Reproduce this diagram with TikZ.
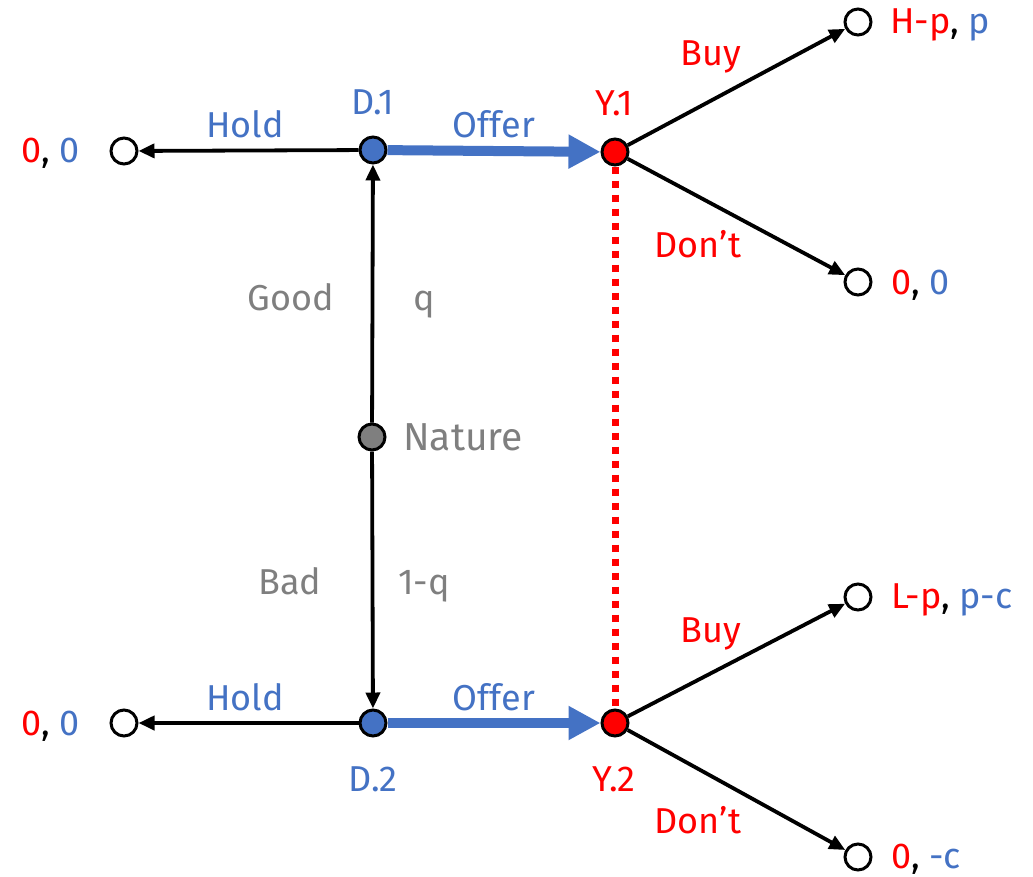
\documentclass[tikz,border=0pt]{standalone}
\usepackage{fontspec}
\setmainfont{Fira Sans}
\usetikzlibrary{arrows.meta}
\definecolor{myblue}{HTML}{4472C4}
\definecolor{myred}{HTML}{FF0000}
\definecolor{mygray}{HTML}{7F7F7F}
\begin{document}
\begin{tikzpicture}[x=1pt,y=-1pt,
  font=\fontsize{36}{42}\selectfont,
  dec/.style={circle,draw=black,line width=3pt,minimum size=26pt,inner sep=0pt},
  term/.style={dec,fill=white},
  lbl/.style={inner sep=0pt,anchor=base},
  lbll/.style={inner sep=0pt,anchor=base west},
  lblr/.style={inner sep=0pt,anchor=base east},
  move/.style={draw=black,line width=3.8pt,-{Triangle[length=16pt,width=14pt]}},
  offer/.style={draw=myblue,line width=10pt,-{Triangle[length=32pt,width=32pt]}},
  info/.style={draw=myred,line width=7pt,dash pattern=on 7pt off 7pt}]
\useasboundingbox (0,0) rectangle (1033,876);
% decision nodes
\node[dec,fill=myblue] (D1) at (373,150) {};
\node[dec,fill=myblue] (D2) at (373,723) {};
\node[dec,fill=myred] (Y1) at (615,152) {};
\node[dec,fill=myred] (Y2) at (615,723) {};
\node[dec,fill=mygray] (N) at (372,437) {};
% terminals
\node[term] (TL1) at (124,151) {};
\node[term] (TL2) at (124,723) {};
\node[term] (T1) at (858,22) {};
\node[term] (T2) at (858,282) {};
\node[term] (T3) at (858,597) {};
\node[term] (T4) at (858,857) {};
% connectors
\draw[info] (Y1) -- (Y2);
\draw[move] (D1) -- (TL1);
\draw[move] (D2) -- (TL2);
\draw[move] (N) -- (D1);
\draw[move] (N) -- (D2);
\draw[offer] (D1) -- (Y1);
\draw[offer] (D2) -- (Y2);
\draw[move] (Y1) -- (T1);
\draw[move] (Y1) -- (T2);
\draw[move] (Y2) -- (T3);
\draw[move] (Y2) -- (T4);
% labels
\node[lbl,text=myblue] (lHold1) at (245,137) {Hold};
\node[lbl,text=myblue] (lHold2) at (245,710) {Hold};
\node[lbl,text=myblue] (lOffer1) at (494,137) {Offer};
\node[lbl,text=myblue] (lOffer2) at (494,710) {Offer};
\node[lbl,text=myblue] (lD1) at (373,114) {D.1};
\node[lbl,text=myblue] (lD2) at (373,791) {D.2};
\node[lbl,text=myred] (lY1) at (614,115) {Y.1};
\node[lbl,text=myred] (lY2) at (614,791) {Y.2};
\node[lbl,text=myred] (lBuy1) at (711,65) {Buy};
\node[lbl,text=myred] (lBuy2) at (711,642) {Buy};
\node[lbl,text=myred] (lDont1) at (698,257) {Don’t};
\node[lbl,text=myred] (lDont2) at (698,833) {Don’t};
\node[lbl,text=mygray] (lGood) at (291,310) {Good};
\node[lbl,text=mygray] (lq) at (424,310) {q};
\node[lbl,text=mygray] (lBad) at (290,594) {Bad};
\node[lbl,text=mygray] (l1q) at (424,594) {1-q};
\node[lbll,text=mygray,font=\fontsize{39}{45}\selectfont] (lNature) at (403,450) {Nature};
% payoffs
\node[lblr] (pL1) at (80,162) {\textcolor{myred}{0}, \textcolor{myblue}{0}};
\node[lblr] (pL2) at (80,735) {\textcolor{myred}{0}, \textcolor{myblue}{0}};
\node[lbll] (p1) at (890,33) {\textcolor{myred}{H-p}, \textcolor{myblue}{p}};
\node[lbll] (p2) at (891,294) {\textcolor{myred}{0}, \textcolor{myblue}{0}};
\node[lbll] (p3) at (891,608) {\textcolor{myred}{L-p}, \textcolor{myblue}{p-c}};
\node[lbll] (p4) at (891,868) {\textcolor{myred}{0}, \textcolor{myblue}{-c}};
\end{tikzpicture}
\end{document}
